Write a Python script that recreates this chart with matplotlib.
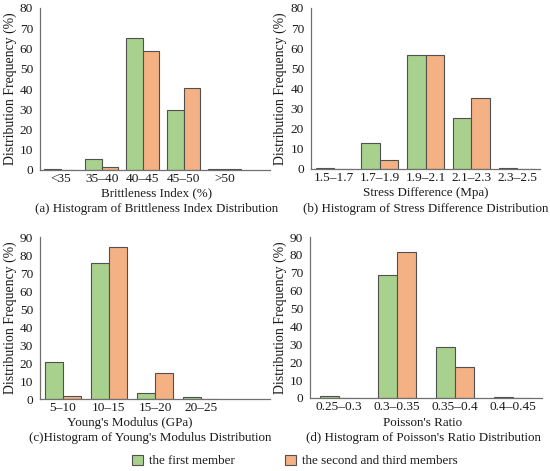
import matplotlib
matplotlib.use("Agg")
import matplotlib.pyplot as plt
import numpy as np
from matplotlib.patches import Patch

plt.rcParams['font.family'] = ['Liberation Serif', 'DejaVu Serif']

# Data
cats_a = ["<35", "35–40", "40–45", "45–50", ">50"]
first_a = [0.5, 5.6, 65.3, 29.5, 0.5]
second_a = [0.0, 1.3, 58.8, 40.3, 0.5]

cats_b = ["1.5–1.7", "1.7–1.9", "1.9–2.1", "2.1–2.3", "2.3–2.5"]
first_b = [0.7, 13.0, 56.8, 25.3, 0.7]
second_b = [0.0, 4.3, 56.8, 35.2, 0.0]

cats_c = ["5–10", "10–15", "15–20", "20–25"]
first_c = [20.8, 75.4, 3.6, 1.2]
second_c = [1.7, 84.4, 14.2, 0.0]

cats_d = ["0.25–0.3", "0.3–0.35", "0.35–0.4", "0.4–0.45"]
first_d = [0.9, 69.0, 28.6, 0.3]
second_d = [0.0, 81.5, 17.5, 0.0]

xlabels = ["Brittleness Index (%)", "Stress Difference (Mpa)",
           "Young's Modulus (GPa)", "Poisson's Ratio"]
captions = ["(a) Histogram of Brittleness Index Distribution",
            "(b) Histogram of Stress Difference Distribution",
            "(c)Histogram of Young's Modulus Distribution",
            "(d) Histogram of Poisson's Ratio Distribution"]
legend_labels = ["the first member", "the second and third members"]

GREEN = "#a9d18e"
ORANGE = "#f4b183"
EDGE = "#505050"
AXC = "#707070"
TXT = "#1a1a1a"

W, H = 550, 471
fig = plt.figure(figsize=(5.5, 4.71), dpi=100)

def px_axes(l, r, t, b):
    return fig.add_axes([l / W, 1 - b / H, (r - l) / W, (b - t) / H])

panels = [
    dict(box=(40, 270, 8, 170), cats=cats_a, f=first_a, s=second_a, ymax=80, xlim=(-0.5, 5.1), w=0.4,
         xl=(157, 193), cap=(157, 209), yl=10),
    dict(box=(311, 540, 8, 169), cats=cats_b, f=first_b, s=second_b, ymax=80, xlim=(-0.5, 4.5), w=0.4,
         xl=(426, 193), cap=(426, 209), yl=280),
    dict(box=(40, 270, 237, 399), cats=cats_c, f=first_c, s=second_c, ymax=90, xlim=(-0.5, 4.5), w=0.4,
         xl=(130, 423), cap=(150, 438), yl=10),
    dict(box=(310, 542, 237, 398), cats=cats_d, f=first_d, s=second_d, ymax=90, xlim=(-0.5, 3.5), w=0.33,
         xl=(423, 423), cap=(423, 438), yl=280),
]

fs_tick = 9.6
fs_lab = 9.4
fs_y = 9.9
for i, p in enumerate(panels):
    ax = px_axes(*p["box"])
    x = np.arange(len(p["cats"]))
    w = p["w"]
    ax.bar(x - w / 2, p["f"], width=w, color=GREEN, edgecolor=EDGE, linewidth=0.8)
    ax.bar(x + w / 2, p["s"], width=w, color=ORANGE, edgecolor=EDGE, linewidth=0.8)
    ax.set_xlim(*p["xlim"])
    ax.set_ylim(0, p["ymax"])
    ax.set_yticks(np.arange(0, p["ymax"] + 1, 10))
    ax.set_xticks(x)
    ax.set_xticklabels(p["cats"])
    for s in ["top", "right"]:
        ax.spines[s].set_visible(False)
    for s in ["left", "bottom"]:
        ax.spines[s].set_color(AXC)
        ax.spines[s].set_linewidth(0.9)
    ax.tick_params(axis="x", length=0, pad=2.5, labelsize=fs_tick, colors=TXT)
    ax.tick_params(axis="y", length=0, pad=5, labelsize=fs_tick, colors=TXT)
    fig.text(p["yl"] / W, 1 - ((p["box"][2] + p["box"][3]) / 2) / H, "Distribution Frequency (%)",
             rotation=90, ha="center", va="center", fontsize=fs_y, color=TXT)
    fig.text(p["xl"][0] / W, 1 - p["xl"][1] / H, xlabels[i], ha="center", va="center",
             fontsize=fs_lab, color=TXT)
    fig.text(p["cap"][0] / W, 1 - p["cap"][1] / H, captions[i], ha="center", va="center",
             fontsize=fs_lab, color=TXT)

colors = [GREEN, ORANGE]
lx = [132, 285]
for k in range(2):
    h = Patch(facecolor=colors[k], edgecolor=EDGE, linewidth=0.8)
    leg = fig.legend([h], [legend_labels[k]], loc="center left",
                     bbox_to_anchor=(lx[k] / W, 1 - 461 / H), frameon=False,
                     fontsize=fs_lab, handlelength=0.85, handleheight=0.85,
                     handletextpad=0.45, borderpad=0, borderaxespad=0)
    for t in leg.get_texts():
        t.set_color(TXT)

fig.savefig("out.png", dpi=100)
